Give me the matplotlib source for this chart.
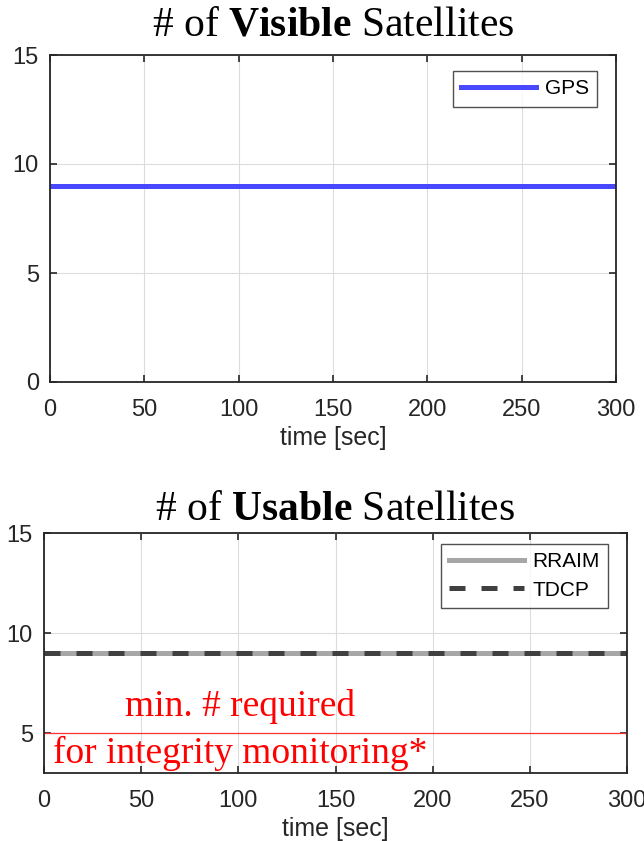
import numpy as np
import matplotlib
matplotlib.use("Agg")
import matplotlib.pyplot as plt

plt.rcParams['font.family'] = ['Liberation Sans', 'DejaVu Sans']
plt.rcParams['mathtext.fontset'] = 'custom'
plt.rcParams['mathtext.rm'] = 'Liberation Serif'
plt.rcParams['mathtext.bf'] = 'Liberation Serif:bold'

# ---- data ----
time = [0, 300]
gps_visible = [9, 9]
rraim_usable = [9, 9]
tdcp_usable = [9, 9]
min_required = [5, 5]

xticks = [0, 50, 100, 150, 200, 250, 300]
yticks_top = [0, 5, 10, 15]
yticks_bot = [5, 10, 15]

fig = plt.figure(figsize=(6.44, 8.41), dpi=100)
ax1 = fig.add_axes([50/644, 1-382/841, 566/644, 327/841])
ax2 = fig.add_axes([44/644, 1-773/841, 583/644, 240/841])

tick_c = '#262626'
for ax in (ax1, ax2):
    ax.grid(True, color='#dcdcdc', lw=0.8)
    ax.set_axisbelow(True)
    ax.tick_params(direction='in', top=True, right=True, length=5, width=1.2,
                   labelsize=17, colors=tick_c)
    ax.tick_params(axis='x', pad=12)
    ax.tick_params(axis='y', pad=8)
    for s in ax.spines.values():
        s.set_linewidth(1.3)
        s.set_color(tick_c)
    ax.set_xlim(0, 300)
    ax.set_xticks(xticks)
    ax.set_xlabel('time [sec]', fontsize=18, color=tick_c, labelpad=4)

ax1.plot(time, gps_visible, color='#4848ff', lw=3.6, label='GPS')
ax1.set_ylim(0, 15)
ax1.set_yticks(yticks_top)
leg1 = ax1.legend(loc='upper right', bbox_to_anchor=(0.9664, 0.951), borderaxespad=0,
                  fontsize=15, handlelength=3.6, handletextpad=0.4, frameon=True,
                  fancybox=False, edgecolor='#262626')
leg1.get_frame().set_linewidth(1.0)
ax1.set_title(r'# of $\mathbf{Visible}$ Satellites', fontsize=30,
              fontfamily='Liberation Serif', pad=14)

ax2.plot(time, rraim_usable, color='#a6a6a6', lw=3.6, label='RRAIM')
ax2.plot(time, tdcp_usable, color='#404040', lw=3.6, dashes=(3.2, 3.2), label='TDCP')
ax2.plot(time, min_required, color='#ff3030', lw=0.9)
ax2.set_ylim(3, 15)
ax2.set_yticks(yticks_bot)
leg2 = ax2.legend(loc='upper right', bbox_to_anchor=(0.9674, 0.954), borderaxespad=0,
                  fontsize=15, handlelength=3.6, handletextpad=0.4, frameon=True,
                  fancybox=False, edgecolor='#262626', labelspacing=0.45)
leg2.get_frame().set_linewidth(1.0)
ax2.set_title(r'# of $\mathbf{Usable}$ Satellites', fontsize=30,
              fontfamily='Liberation Serif', pad=9)
ax2.text(101, 6.3, 'min. # required', color='red', fontsize=27,
         fontfamily='Liberation Serif', ha='center', va='center')
ax2.text(101, 4.0, 'for integrity monitoring*', color='red', fontsize=27,
         fontfamily='Liberation Serif', ha='center', va='center')

fig.savefig('out.png', dpi=100)
